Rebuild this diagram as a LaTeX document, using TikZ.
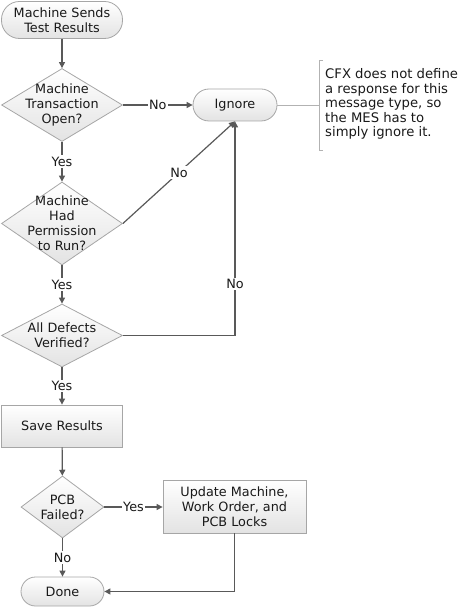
\documentclass[tikz,border=0pt]{standalone}
\usepackage{fontspec}
\setmainfont{DejaVu Sans}
\usetikzlibrary{shapes.geometric,arrows.meta}
\begin{document}
\begin{tikzpicture}[x=1pt,y=-1pt,
  every node/.style={font=\fontsize{12.8}{15}\selectfont, text=black!90},
  shade/.style={draw=black!35, line width=0.8pt, top color=white, bottom color=black!11},
  term/.style={shade, align=center, inner sep=0pt},
  proc/.style={shade, align=center, inner sep=0pt},
  dia/.style={shade, shape=diamond, inner sep=0pt},
  txt/.style={align=center, inner sep=0pt},
  arr/.style={draw=black!65, line width=1.2pt, -{Triangle[length=6pt,width=6pt]}},
  lbl/.style={fill=white, inner sep=1.5pt},
  brk/.style={draw=black!30, line width=0.8pt}]
\useasboundingbox (0,0) rectangle (474,612);

\node[term, minimum width=121pt, minimum height=37pt, rounded corners=18pt] (start) at (62,20) {Machine Sends\\Test Results};
\node[dia, minimum width=121pt, minimum height=73pt] (d1) at (62,105) {};
\node[txt] (d1t) at (62,104.5) {Machine\\Transaction\\Open?};
\node[term, minimum width=84pt, minimum height=32pt, rounded corners=16pt] (ign) at (235,105) {Ignore};
\node[dia, minimum width=121pt, minimum height=83pt] (d2) at (62,223.5) {};
\node[txt] (d2t) at (62,223) {Machine\\Had\\Permission\\to Run?};
\node[dia, minimum width=121pt, minimum height=63pt] (d3) at (62,335.5) {};
\node[txt] (d3t) at (62,335) {All Defects\\Verified?};
\node[proc, minimum width=121pt, minimum height=42pt] (save) at (62,426) {Save Results};
\node[dia, minimum width=83pt, minimum height=62pt] (d4) at (62.5,507) {};
\node[txt] (d4t) at (62.5,507) {PCB\\Failed?};
\node[proc, minimum width=143pt, minimum height=53pt] (upd) at (234.5,506.5) {Update Machine,\\Work Order, and\\PCB Locks};
\node[term, minimum width=83pt, minimum height=29pt, rounded corners=14.5pt] (done) at (62.5,591.5) {Done};

\node[anchor=west, align=left, inner sep=0pt, font=\fontsize{13.2}{14.5}\selectfont] (cmt) at (325,104) {CFX does not define\\a response for this\\message type, so\\the MES has to\\simply ignore it.};
\coordinate (bk) at (319,105);
\draw[brk] (323,60) -- (319,60) -- (319,150) -- (323,150);
\draw[brk] (ign.east) -- (bk);

\draw[arr] (start) -- (d1);
\draw[arr] (d1) -- node[lbl]{No} (ign);
\draw[arr] (d1) -- node[lbl]{Yes} (d2);
\draw[arr] (d2.east) -- node[lbl]{No} (ign.south);
\draw[arr] (d2) -- node[lbl]{Yes} (d3);
\draw[arr] (d3.east) -| node[lbl,pos=0.62]{No} (ign.south);
\draw[arr] (d3) -- node[lbl]{Yes} (save);
\draw[arr] (save) -- (d4);
\draw[arr] (d4.east) -- node[lbl]{Yes} (d4.east -| upd.west);
\draw[arr] (d4) -- node[lbl]{No} (done);
\draw[arr] (upd.south) |- (done.east);
\end{tikzpicture}
\end{document}
